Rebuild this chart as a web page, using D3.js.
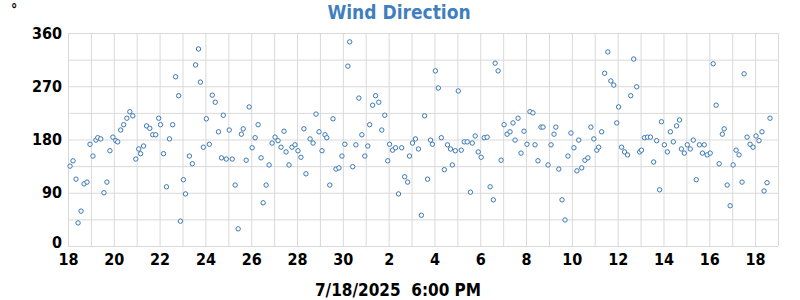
<!DOCTYPE html>
<meta charset="utf-8">
<style>
    html,
    body {
        width: 100%;
        height: 100%;
        background: #fff;
    }

    * {
        margin: 0;
        padding: 0;
    }

    svg text {
        font-family: "DejaVu Sans Condensed", "Liberation Sans Narrow", sans-serif;
        font-weight: bold;
    }
</style>

<body>
    <svg width="800" height="300"></svg>
    <script src="https://cdn.jsdelivr.net/npm/d3@7"></script>
    <script>
        // days since 6/18/2025 00:00, wind direction in degrees
        const days = [
            0.09, 0.22, 0.35, 0.44, 0.57, 0.70, 0.83, 0.96, 1.09, 1.22, 1.30, 1.43, 1.57, 1.70, 1.83, 1.96,
            2.09, 2.17, 2.30, 2.43, 2.57, 2.70, 2.83, 2.96, 3.09, 3.17, 3.30, 3.43, 3.57, 3.70, 3.83, 3.96,
            4.04, 4.17, 4.30, 4.43, 4.57, 4.70, 4.83, 4.91, 5.04, 5.13,
            5.30, 5.43, 5.57, 5.70, 5.78, 5.91, 6.04, 6.17, 6.30, 6.43, 6.57, 6.70, 6.78, 6.91,
            7.04, 7.17, 7.30, 7.43, 7.57, 7.65, 7.78, 7.91, 8.04, 8.17, 8.30, 8.43, 8.52, 8.65, 8.78, 8.91,
            9.04, 9.17, 9.30, 9.43, 9.52, 9.65, 9.78, 9.91, 10.04, 10.17, 10.30, 10.39,
            10.57, 10.70, 10.83, 10.96, 11.09, 11.22, 11.30, 11.43, 11.57, 11.70, 11.83, 11.96,
            12.09, 12.22, 12.30, 12.43, 12.57, 12.70, 12.83, 12.96, 13.09, 13.17, 13.30, 13.43, 13.57, 13.70, 13.83, 13.96,
            14.04, 14.17, 14.30, 14.43, 14.57, 14.70, 14.83, 14.91, 15.04, 15.17, 15.30, 15.43, 15.57,
            15.70, 15.83, 15.91, 16.04, 16.17, 16.30, 16.43, 16.57, 16.70, 16.78, 16.91,
            17.04, 17.17, 17.30, 17.43, 17.57, 17.65, 17.78, 17.91, 18.04, 18.17, 18.30, 18.43, 18.57, 18.65, 18.78, 18.91,
            19.04, 19.17, 19.30, 19.43, 19.52, 19.65, 19.78, 19.91, 20.04, 20.17, 20.30, 20.39, 20.52, 20.65, 20.74,
            20.96, 21.09, 21.22, 21.30, 21.43, 21.57, 21.70, 21.83, 21.96, 22.09, 22.22, 22.30, 22.43, 22.57, 22.70, 22.83, 22.96,
            23.09, 23.17, 23.30, 23.43, 23.57, 23.70, 23.83, 23.96, 24.04, 24.17, 24.30, 24.43, 24.57, 24.70, 24.83, 24.96,
            25.04, 25.17, 25.30, 25.43, 25.57, 25.70, 25.83, 25.91, 26.04,
            26.17, 26.30, 26.43, 26.57, 26.70, 26.78, 26.91, 27.04, 27.17, 27.30, 27.43, 27.57, 27.70, 27.78, 27.91,
            28.04, 28.17, 28.30, 28.43, 28.57, 28.65, 28.78, 28.91, 29.04, 29.17, 29.30, 29.43, 29.52, 29.65, 29.78, 29.91,
            30.04, 30.17, 30.30, 30.39, 30.52, 30.65
        ];
        const dirs = [
            135, 144, 113, 39, 59, 105, 108, 172, 152, 179, 183, 181, 90, 108, 161, 184,
            178, 176, 196, 205, 216, 227, 220, 147, 164, 156, 169, 203, 199, 188, 188, 216,
            205, 156, 100, 181, 205, 286, 254, 42, 112, 88,
            152, 139, 306, 333, 277, 167, 215, 172, 255, 243, 193, 149, 221, 147,
            196, 147, 103, 29, 189, 198, 145, 235, 166, 183, 205, 149, 73, 103, 137, 174,
            184, 178, 167, 194, 159, 137, 167, 171, 161, 150, 198, 122,
            181, 174, 223, 193, 161, 188, 183, 103, 215, 130, 132, 152,
            172, 304, 345, 134, 171, 250, 188, 152, 169, 205, 238, 254, 243, 196, 221, 144,
            172, 162, 166, 88, 166, 117, 108, 152, 174, 181, 164, 52, 220,
            113, 179, 172, 296, 267, 183, 129, 171, 164, 137, 161,
            262, 162, 176, 176, 91, 174, 186, 159, 150, 183, 184, 100, 78, 309, 296, 145,
            205, 189, 193, 208, 179, 216, 157, 194, 172, 227, 225, 171, 144, 201, 201,
            137, 171, 189, 201, 130, 78, 44, 152, 191, 166, 127, 179, 132, 145, 149, 201, 181,
            162, 167, 193, 292, 328, 279, 272, 208, 235, 167, 159, 154, 254, 316, 269, 159,
            162, 183, 184, 184, 142, 178, 95, 210, 171,
            159, 193, 176, 203, 213, 164, 157, 171, 164, 179, 112, 171, 157, 171, 154,
            157, 308, 238, 139, 189, 198, 103, 68, 137, 162, 154, 108, 291, 184, 172, 167,
            186, 178, 193, 93, 107, 216
        ];
        const yTicks = [0, 90, 180, 270, 360];
        const yGrid = [0, 45, 90, 135, 180, 225, 270, 315, 360];
        const title = "Wind Direction";
        const footer = "7/18/2025  6:00 PM";

        const start = new Date(2025, 5, 18);
        const end = new Date(2025, 6, 19);
        const toDate = d => new Date(start.getTime() + d * 864e5);

        const svg = d3.select("svg");
        const margin = { top: 33, right: 22, bottom: 54, left: 68 };
        const width = 800 - margin.left - margin.right;
        const height = 300 - margin.top - margin.bottom;

        const x = d3.scaleTime().domain([start, end]).range([0, width]);
        const y = d3.scaleLinear().domain([0, 360]).range([height, 0]);

        const g = svg.append("g").attr("transform", `translate(${margin.left},${margin.top})`);

        // grid: one line per day, every 45 degrees
        g.append("g")
            .attr("transform", `translate(0,${height})`)
            .call(d3.axisBottom(x).tickValues(d3.timeDay.range(start, d3.timeDay.offset(end, 1))).tickSize(-height).tickFormat(""))
            .call(a => a.select(".domain").remove())
            .call(a => a.selectAll("line").attr("stroke", "#d9d9d9"));
        g.append("g")
            .call(d3.axisLeft(y).tickValues(yGrid).tickSize(-width).tickFormat(""))
            .call(a => a.select(".domain").remove())
            .call(a => a.selectAll("line").attr("stroke", "#d9d9d9"));

        // tick labels
        const xTicks = d3.range(0, 31, 2).map(toDate);
        g.append("g")
            .attr("transform", `translate(0,${height})`)
            .call(d3.axisBottom(x).tickValues(xTicks).tickSize(0).tickPadding(8).tickFormat(d3.timeFormat("%-d")))
            .call(a => a.select(".domain").remove())
            .call(a => a.selectAll("text").attr("font-size", 16).attr("fill", "#000"));
        g.append("g")
            .call(d3.axisLeft(y).tickValues(yTicks).tickSize(0).tickPadding(6))
            .call(a => a.select(".domain").remove())
            .call(a => a.selectAll("text").attr("font-size", 16).attr("fill", "#000"))
            .call(a => a.selectAll(".tick").filter(d => d === 0).select("text").attr("dy", "0.1em"));
        g.selectAll(".tick text").attr("font-family", null);

        // points
        g.append("g")
            .selectAll("circle")
            .data(days.map((d, i) => ({ t: toDate(d), v: dirs[i] })))
            .join("circle")
            .attr("cx", d => x(d.t))
            .attr("cy", d => y(d.v))
            .attr("r", 2.2)
            .attr("fill", "#fff")
            .attr("stroke", "#3a78b5")
            .attr("stroke-width", 1);

        svg.append("text")
            .attr("x", 399).attr("y", 19)
            .attr("text-anchor", "middle")
            .attr("font-size", 19)
            .attr("fill", "#3f7fbd")
            .text(title);
        svg.append("text")
            .attr("x", 11).attr("y", 14)
            .attr("font-size", 14)
            .text("°");
        svg.append("text")
            .attr("x", 398).attr("y", 296)
            .attr("text-anchor", "middle")
            .attr("font-size", 17)
            .style("white-space", "pre")
            .text(footer);
    </script>
</body>

</html>
